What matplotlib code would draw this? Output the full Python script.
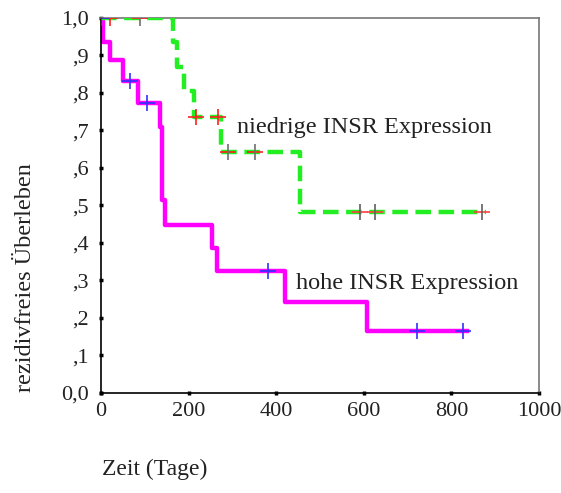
import matplotlib
matplotlib.use("Agg")
import matplotlib.pyplot as plt

# --- data ---
# hohe INSR Expression (magenta)
t_hoch = [0, 5, 20, 50, 84, 135, 140, 145, 253, 264, 420, 608, 835]
s_hoch = [1.0, 0.936, 0.888, 0.832, 0.773, 0.71, 0.515, 0.448, 0.387, 0.324, 0.243, 0.165, 0.165]
cens_t_hoch = [0, 66, 104, 381, 722, 826]
cens_s_hoch = [1.0, 0.832, 0.773, 0.324, 0.165, 0.165]

# niedrige INSR Expression (green)
t_nied = [0, 165, 173, 190, 212, 275, 454, 878]
s_nied = [1.0, 0.937, 0.870, 0.804, 0.736, 0.643, 0.483, 0.483]
cens_t_nied_red = [20, 218, 268]
cens_s_nied_red = [1.0, 0.736, 0.736]
cens_t_nied_gray = [88, 290, 352]
cens_s_nied_gray = [1.0, 0.643, 0.643]
cens_t_nied_mix = [591, 625, 869]
cens_s_nied_mix = [0.483, 0.483, 0.483]

xticks = [0, 200, 400, 600, 800, 1000]
yticks = [0.0, 0.1, 0.2, 0.3, 0.4, 0.5, 0.6, 0.7, 0.8, 0.9, 1.0]
ytick_labels = ["0,0", ",1", ",2", ",3", ",4", ",5", ",6", ",7", ",8", ",9", "1,0"]

plt.rcParams['font.family'] = ['Liberation Serif', 'DejaVu Serif']

fig = plt.figure(figsize=(5.61, 4.93), dpi=100)
ax = fig.add_axes([0.180, 0.203, 0.781, 0.7605])

ax.step(t_nied, s_nied, where='post', color='#22ee22', lw=3.2,
        dashes=(3.5, 1.7), zorder=3)
ax.step(t_hoch, s_hoch, where='post', color='#ff00ff', lw=3.2, zorder=2)

ax.plot(cens_t_nied_red, cens_s_nied_red, ls='none', marker='+', ms=12, mew=1.2,
        color='#ff2020', zorder=4)
ax.plot(cens_t_nied_gray, cens_s_nied_gray, ls='none', marker='_', ms=12, mew=1.2,
        color='#ff2020', zorder=4)
ax.plot(cens_t_nied_gray, cens_s_nied_gray, ls='none', marker='|', ms=12, mew=1.2,
        color='#707070', zorder=5)
ax.plot(cens_t_nied_mix, cens_s_nied_mix, ls='none', marker='_', ms=12, mew=1.2,
        color='#ff4040', zorder=4)
ax.plot(cens_t_nied_mix, cens_s_nied_mix, ls='none', marker='|', ms=12, mew=1.2,
        color='#606060', zorder=5)
ax.plot(cens_t_hoch, cens_s_hoch, ls='none', marker='+', ms=12, mew=1.2,
        color='#3030ff', zorder=4)

ax.set_xlim(0, 1000)
ax.set_ylim(0, 1.0)
ax.set_xticks(xticks)
ax.set_xticklabels([str(v) for v in xticks])
ax.set_yticks(yticks)
ax.set_yticklabels(ytick_labels)
ax.tick_params(direction='inout', length=3.5, width=2.5, labelsize=16, color='black',
               labelcolor='#222222')
ax.tick_params(axis='y', pad=7)
ax.tick_params(axis='x', pad=5)

for side in ['left', 'bottom']:
    ax.spines[side].set_color('black')
    ax.spines[side].set_linewidth(1.2)
for side in ['top', 'right']:
    ax.spines[side].set_color('#777777')
    ax.spines[side].set_linewidth(1.2)

ax.text(310, 0.707, "niedrige INSR Expression", fontsize=17.5, va='center', ha='left', color='#222222')
ax.text(445, 0.293, "hohe INSR Expression", fontsize=17.5, va='center', ha='left', color='#222222')

fig.text(0.045, 0.438, "rezidivfreies Überleben", rotation=90, fontsize=17.5,
         va='center', ha='center', color='#222222')
fig.text(0.182, 0.047, "Zeit (Tage)", fontsize=17, va='center', ha='left', color='#222222')

fig.savefig("out.png", dpi=100)
